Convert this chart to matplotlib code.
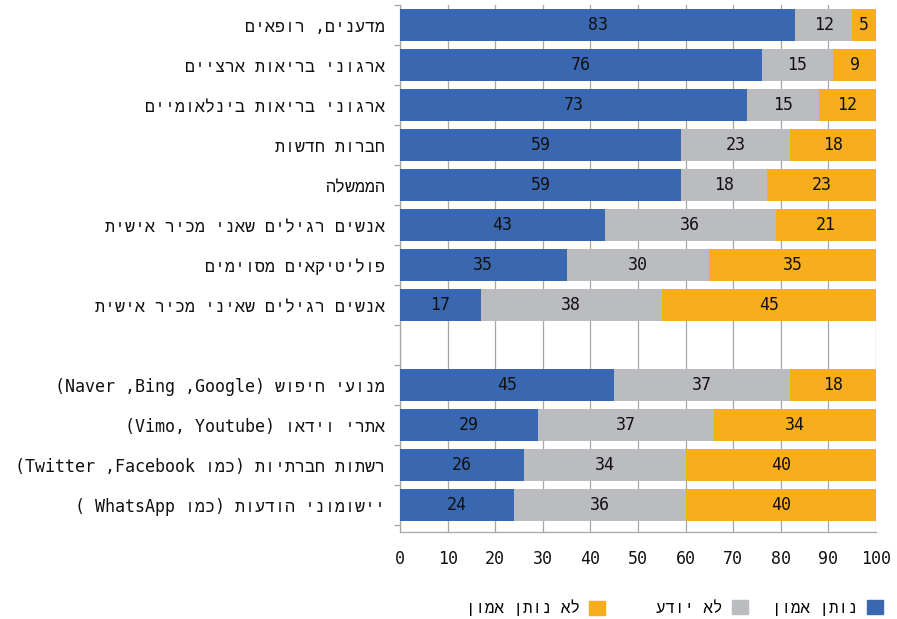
import re
import numpy as np
import matplotlib
matplotlib.use("Agg")
import matplotlib.pyplot as plt
from matplotlib.patches import Patch

# Latin and digits from DejaVu Sans Mono, Hebrew falls through to Liberation Mono
plt.rcParams['font.family'] = ['DejaVu Sans Mono', 'Liberation Mono', 'DejaVu Sans']

# categories, top to bottom (logical Hebrew order)
categories = [
    "מדענים, רופאים",
    "ארגוני בריאות ארציים",
    "ארגוני בריאות בינלאומיים",
    "חברות חדשות",
    "הממשלה",
    "אנשים רגילים שאני מכיר אישית",
    "פוליטיקאים מסוימים",
    "אנשים רגילים שאיני מכיר אישית",
    "מנועי חיפוש (Google, Bing, Naver)",
    "אתרי וידאו (Youtube ,Vimo)",
    "רשתות חברתיות (כמו Facebook, Twitter)",
    "יישומוני הודעות (כמו WhatsApp )",
]
trust = [83, 76, 73, 59, 59, 43, 35, 17, 45, 29, 26, 24]
dont_know = [12, 15, 15, 23, 18, 36, 30, 38, 37, 37, 34, 36]
no_trust = [5, 9, 12, 18, 23, 21, 35, 45, 18, 34, 40, 40]
series_names = ["נותן אמון", "לא יודע", "לא נותן אמון"]
colors = ["#3A68B0", "#BBBCC0", "#F8AD1C"]


def rtl(s):
    # crude visual reordering: reverse, keep latin words readable, mirror parens
    v = re.sub(r'[A-Za-z0-9]+', lambda m: m.group(0)[::-1], s[::-1])
    return v.translate(str.maketrans("()", ")("))


n = len(categories)
idx = np.arange(n)
ypos = idx + (idx >= 8)  # empty slot between the two groups

fig = plt.figure(figsize=(8.97, 6.19), dpi=100)
ax = fig.add_axes([400 / 897, 1 - 532 / 619, 476 / 897, 527 / 619])

left = np.zeros(n)
for vals, col in zip([trust, dont_know, no_trust], colors):
    vals = np.array(vals)
    ax.barh(ypos, vals, left=left, height=0.82, color=col, zorder=3)
    for y, l, v in zip(ypos, left, vals):
        ax.text(l + v / 2, y, str(v), ha='center', va='center',
                fontsize=12, color='#111111', zorder=4)
    left = left + vals

ax.set_xlim(0, 100)
ax.set_ylim(12.675, -0.5)
ax.set_xticks(np.arange(0, 101, 10))
ax.set_yticks(ypos)
ax.set_yticklabels([rtl(c) for c in categories], fontsize=12)
ax.set_yticks(np.arange(-0.5, 13, 1), minor=True)

ax.xaxis.grid(True, color='#A6A6A6', linewidth=0.9, zorder=0)
ax.set_axisbelow(True)
for s in ['top', 'right']:
    ax.spines[s].set_visible(False)
for s in ['left', 'bottom']:
    ax.spines[s].set_color('#A6A6A6')
    ax.spines[s].set_linewidth(0.9)

ax.tick_params(axis='x', length=0, pad=13, labelsize=12, colors='#111111')
ax.tick_params(axis='y', which='major', length=0, pad=11, colors='#111111')
ax.tick_params(axis='y', which='minor', length=4, width=0.9, color='#A6A6A6')

# right-to-left legend: one entry per anchor, swatch to the right of its text
legend_right = [883, 748, 605]
for name, col, xr in zip(series_names, colors, legend_right):
    leg = fig.legend([Patch(color=col)], [rtl(name)], loc='center right',
                     bbox_to_anchor=(xr / 897, 1 - 608 / 619), frameon=False,
                     markerfirst=False, fontsize=11.3, handlelength=1.0,
                     handleheight=1.0, handletextpad=0.6, borderpad=0,
                     borderaxespad=0)

fig.savefig('out.png', dpi=100)
